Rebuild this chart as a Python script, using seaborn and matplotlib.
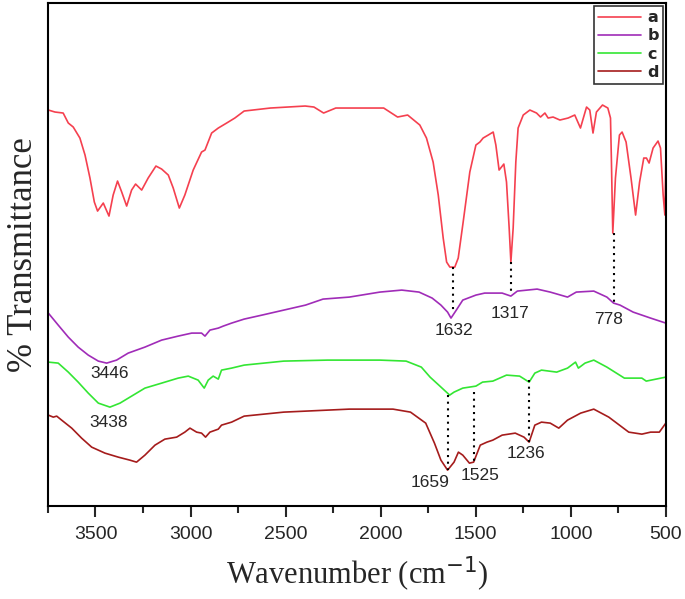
import numpy as np
import pandas as pd
import matplotlib
matplotlib.use("Agg")
import matplotlib.pyplot as plt
import seaborn as sns
from matplotlib.ticker import MultipleLocator

# wavenumber (cm-1) and transmittance (arbitrary, offset)
wn_a = [3748, 3713, 3670, 3643, 3617, 3582, 3555, 3529, 3506, 3489, 3459, 3429, 3407, 3384,
        3362, 3336, 3310, 3289, 3257, 3223, 3182, 3152, 3117, 3091, 3059, 3030, 2986, 2942,
        2924, 2889, 2854, 2810, 2767, 2718, 2580, 2397, 2351, 2300, 2236, 1984, 1911, 1858,
        1794, 1759, 1724, 1697, 1671, 1653, 1636, 1610, 1592, 1566, 1531, 1499, 1478, 1461,
        1434, 1408, 1394, 1377, 1352, 1338, 1324, 1315, 1303, 1289, 1277, 1250, 1215, 1180,
        1159, 1136, 1119, 1093, 1057, 1014, 979, 949, 917, 900, 883, 865, 833, 805, 791,
        786, 779, 765, 744, 730, 709, 683, 659, 638, 616, 602, 588, 567, 541, 528, 514,
        505, 500]
t_a = [396, 394, 393, 383, 379, 368, 351, 328, 304, 295, 303, 290, 311, 325,
       314, 300, 316, 322, 316, 328, 340, 337, 331, 318, 298, 311, 336, 354,
       356, 373, 378, 383, 388, 395, 398, 400, 399, 393, 398, 398, 389, 391,
       381, 368, 344, 311, 268, 244, 239, 239, 248, 284, 334, 361, 364, 368,
       371, 374, 361, 336, 342, 324, 278, 244, 278, 344, 378, 391, 396, 393,
       389, 393, 388, 389, 386, 388, 391, 378, 399, 396, 373, 394, 401, 398, 388,
       344, 273, 328, 371, 374, 364, 328, 291, 324, 348, 348, 343, 358, 365, 358, 311,
       291, 345]

wn_b = [3748, 3696, 3643, 3591, 3538, 3485, 3441, 3389, 3328, 3240, 3152, 3065, 2994, 2942,
        2924, 2898, 2854, 2828, 2784, 2718, 2624, 2395, 2303, 2165, 2004, 1889, 1798, 1729,
        1683, 1648, 1630, 1602, 1568, 1499, 1453, 1361, 1315, 1281, 1177, 1108, 1017, 971,
        879, 810, 775, 741, 672, 580, 500]
t_b = [193, 181, 169, 159, 151, 145, 143, 146, 153, 159, 166, 170, 173, 173,
       170, 176, 178, 180, 183, 187, 191, 201, 207, 209, 214, 216, 214, 208,
       201, 194, 188, 196, 206, 211, 213, 213, 210, 215, 217, 214, 209, 214,
       215, 209, 203, 201, 194, 188, 183]

wn_c = [3748, 3696, 3643, 3591, 3538, 3485, 3424, 3371, 3310, 3240, 3152, 3065, 3012, 2960,
        2928, 2907, 2881, 2854, 2837, 2784, 2718, 2510, 2280, 2004, 1866, 1786, 1740, 1694,
        1637, 1614, 1568, 1499, 1464, 1410, 1338, 1269, 1219, 1189, 1154, 1074, 1017, 975,
        960, 925, 879, 810, 718, 626, 603, 500]
t_c = [144, 143, 134, 124, 113, 103, 99, 103, 110, 118, 123, 128, 130, 126,
       118, 126, 130, 127, 136, 138, 141, 145, 146, 146, 145, 139, 129, 121,
       111, 114, 118, 120, 124, 125, 131, 130, 124, 133, 136, 134, 138, 144,
       138, 143, 146, 139, 128, 128, 125, 129]

wn_d = [3748, 3722, 3704, 3678, 3625, 3573, 3520, 3450, 3380, 3319, 3284, 3240, 3187, 3135,
        3073, 3030, 3003, 2968, 2942, 2921, 2898, 2854, 2837, 2784, 2718, 2510, 2165, 1935,
        1843, 1763, 1717, 1683, 1648, 1614, 1591, 1568, 1533, 1511, 1476, 1441, 1410, 1361,
        1292, 1246, 1219, 1189, 1154, 1108, 1063, 1017, 948, 879, 800, 695, 626, 580, 534,
        500]
t_d = [91, 89, 90, 86, 78, 68, 59, 53, 49, 46, 44, 51, 61, 67,
       69, 74, 78, 74, 73, 69, 74, 77, 81, 84, 90, 94, 97, 97,
       94, 83, 63, 46, 36, 44, 54, 51, 43, 44, 61, 64, 66, 71,
       73, 69, 64, 81, 84, 83, 78, 86, 93, 97, 89, 74, 72, 74, 74,
       83]

series = ["a", "b", "c", "d"]
colors = ["#F5404F", "#A02CB8", "#33E633", "#A51C1C"]

# peak markers: dotted line x, from y0 to y1, and label position
peak_labels = ["1632", "1317", "778", "1659", "1525", "1236", "3446", "3438"]
peak_x = [1620, 1313, 773, 1648, 1511, 1219, None, None]
peak_y0 = [239, 244, 273, 111, 114, 126, None, None]
peak_y1 = [194, 211, 204, 36, 43, 64, None, None]
text_x = [1615, 1321, 800, 1742, 1479, 1237, 3424, 3429]
text_y = [176, 193, 187, 24, 31, 53, 133, 84]

frames = []
for name, x, y in zip(series, [wn_a, wn_b, wn_c, wn_d], [t_a, t_b, t_c, t_d]):
    frames.append(pd.DataFrame({"wavenumber": x, "T": y, "sample": name}))
df = pd.concat(frames, ignore_index=True)

sns.set_style("ticks")
fig = plt.figure(figsize=(6.85, 5.99), dpi=100)
ax = fig.add_axes([0.070, 0.155, 0.902, 0.840])

sns.lineplot(data=df, x="wavenumber", y="T", hue="sample", palette=dict(zip(series, colors)),
             linewidth=1.2, estimator=None, ax=ax)

narrow = ["Liberation Sans Narrow", "Liberation Sans", "DejaVu Sans"]
for i, lab in enumerate(peak_labels):
    if peak_x[i] is not None:
        ax.plot([peak_x[i], peak_x[i]], [peak_y0[i], peak_y1[i]], color="black",
                linestyle=(0, (1, 2.2)), linewidth=1.5)
    ax.text(text_x[i], text_y[i], lab, ha="center", va="center", fontsize=12.5, family=narrow)

ax.set_xlim(3750, 500)
ax.set_ylim(0, 503)
ax.xaxis.set_major_locator(MultipleLocator(500))
ax.xaxis.set_minor_locator(MultipleLocator(250))
ax.tick_params(axis="x", which="major", length=8, width=1.5, direction="out", labelsize=14, pad=6)
ax.tick_params(axis="x", which="minor", length=5, width=1.5, direction="out")
ax.set_yticks([])
for lbl in ax.get_xticklabels():
    lbl.set_family(narrow)
for sp in ax.spines.values():
    sp.set_linewidth(1.5)
    sp.set_color("black")

ax.set_xlabel("Wavenumber (cm$^{-1}$)", fontsize=22, family="Liberation Serif", labelpad=9)
ax.set_ylabel("% Transmittance", fontsize=25, family="Liberation Serif", labelpad=6)

leg = ax.legend(loc="upper right", frameon=True, fancybox=False, handlelength=2.7,
                borderaxespad=0.2, labelspacing=0.2, prop={"weight": "bold", "size": 11.5},
                handletextpad=0.4, borderpad=0.25)
leg.get_frame().set_edgecolor("black")
leg.get_frame().set_linewidth(1.2)
leg.set_title(None)

fig.savefig("out.png", dpi=100)
